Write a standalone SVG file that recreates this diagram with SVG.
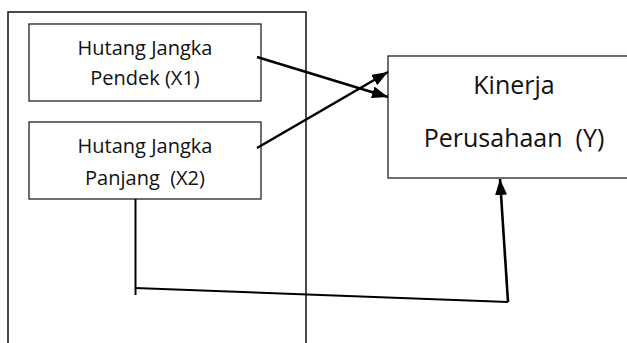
<svg xmlns="http://www.w3.org/2000/svg" width="627" height="343" viewBox="0 0 627 343">
<style>
.box{fill:#fff;stroke:#222;stroke-width:1.3}
.t{font-family:"Open Sans","Noto Sans",sans-serif;fill:#111;text-anchor:middle;white-space:pre}
.s{font-size:20px}
.b{font-size:25px}
.c{fill:none;stroke:#000;stroke-linecap:butt}
</style>
<defs>
<marker id="ah" viewBox="0 0 16 12" refX="16" refY="6" markerWidth="16" markerHeight="12" markerUnits="userSpaceOnUse" orient="auto">
<path d="M0,0 L16,6 L0,12 Z" fill="#000"/>
</marker>
</defs>
<rect x="8" y="12" width="298" height="340" fill="#fff" stroke="#111" stroke-width="1.5"/>
<g id="x1">
<rect class="box" x="29" y="24" width="232" height="77"/>
<text class="t s" x="145" y="55">Hutang Jangka</text>
<text class="t s" x="145" y="85">Pendek (X1)</text>
</g>
<g id="x2">
<rect class="box" x="29" y="122" width="232" height="77"/>
<text class="t s" x="145" y="153">Hutang Jangka</text>
<text class="t s" x="145" y="185" xml:space="preserve">Panjang  (X2)</text>
</g>
<g id="y">
<rect class="box" x="388" y="56" width="250" height="122"/>
<text class="t b" x="514" y="94">Kinerja</text>
<text class="t b" x="514" y="147" xml:space="preserve">Perusahaan  (Y)</text>
</g>
<g id="connectors">
<line class="c" x1="257" y1="57" x2="388" y2="97" stroke-width="2.6" marker-end="url(#ah)"/>
<line class="c" x1="257" y1="148" x2="388" y2="72" stroke-width="2.6" marker-end="url(#ah)"/>
<line class="c" x1="135.5" y1="199" x2="135.5" y2="295" stroke-width="2"/>
<polyline class="c" points="135,288 508,302" stroke-width="2"/>
<line class="c" x1="508" y1="302" x2="500" y2="179" stroke-width="2.6" marker-end="url(#ah)"/>
</g>
</svg>
